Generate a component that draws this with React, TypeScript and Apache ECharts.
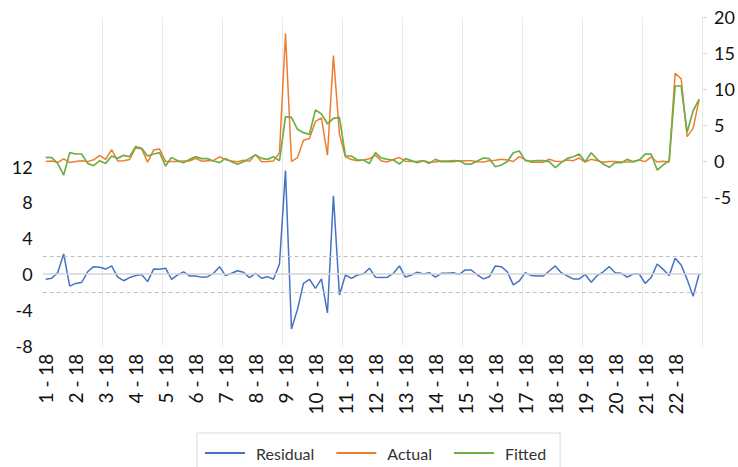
import React, { useEffect, useRef } from "react";
import * as echarts from "echarts";

const tickLabels = [
  "1 - 18", "2 - 18", "3 - 18", "4 - 18", "5 - 18", "6 - 18", "7 - 18", "8 - 18",
  "9 - 18", "10 - 18", "11 - 18", "12 - 18", "13 - 18", "14 - 18", "15 - 18",
  "16 - 18", "17 - 18", "18 - 18", "19 - 18", "20 - 18", "21 - 18", "22 - 18",
];

const residual = [
  -0.59, -0.48, 0.15, 2.25, -1.35, -1.05, -0.95, 0.25, 0.82, 0.75,
  0.55, 0.9, -0.35, -0.75, -0.4, -0.18, -0.05, -0.85, 0.55, 0.52,
  0.65, -0.59, -0.11, 0.23, -0.22, -0.22, -0.35, -0.3, 0.08, 0.82,
  -0.18, 0.08, 0.37, 0.19, -0.4, 0.08, -0.48, -0.3, -0.59, 1.12,
  11.55, -6.15, -3.95, -1.05, -0.59, -1.6, -0.55, -4.35, 8.75, -2.35,
  -0.11, -0.48, -0.11, 0.0, 0.65, -0.35, -0.4, -0.35, 0.08, 0.9,
  -0.35, -0.11, 0.19, 0.0, 0.15, -0.35, 0.08, 0.08, 0.15, -0.05,
  0.45, 0.45, -0.11, -0.55, -0.3, 0.9, 0.82, 0.25, -1.22, -0.78,
  0.15, -0.18, -0.22, -0.22, 0.34, 0.9, 0.15, -0.22, -0.55, -0.55,
  -0.05, -0.92, -0.18, 0.25, 0.82, 0.15, 0.08, -0.35, 0.0, 0.0,
  -1.05, -0.4, 1.12, 0.52, -0.18, 1.75, 1.01, -0.6, -2.5, 0.0,
];

const actual = [
  -0.08, -0.01, -0.18, 0.29, -0.19, -0.07, 0.03, -0.08, 0.17, 0.8,
  0.22, 1.6, 0.02, 0.04, 0.21, 1.82, 1.72, -0.15, 1.53, 1.68,
  -0.05, -0.08, -0.06, 0.0, 0.01, 0.39, -0.02, 0.03, 0.08, 0.59,
  0.19, -0.01, -0.09, 0.1, -0.03, 0.92, -0.11, -0.07, 0.02, 1.17,
  17.74, -0.06, 0.47, 2.9, 3.13, 5.52, 6.01, 0.81, 14.7, 3.74,
  0.59, 0.22, 0.03, 0.14, 0.32, 0.81, 0.02, -0.12, 0.22, 0.48,
  -0.02, -0.06, -0.04, 0.05, -0.18, -0.12, -0.01, -0.01, 0.06, 0.0,
  0.03, 0.03, -0.11, -0.13, 0.03, 0.11, 0.26, 0.16, -0.06, 0.61,
  0.2, -0.18, -0.17, -0.17, 0.25, -0.03, -0.08, 0.15, 0.05, 0.42,
  -0.14, 0.24, 0.05, -0.17, -0.06, -0.08, -0.15, -0.12, -0.09, 0.14,
  -0.08, 0.57, -0.13, -0.04, -0.13, 12.2, 11.46, 3.4, 4.55, 8.59,
];

const fitted = [
  0.51, 0.47, -0.33, -1.96, 1.16, 0.98, 0.98, -0.33, -0.65, 0.05,
  -0.33, 0.7, 0.37, 0.79, 0.61, 2.0, 1.77, 0.7, 0.98, 1.16,
  -0.7, 0.51, 0.05, -0.23, 0.23, 0.61, 0.33, 0.33, 0.0, -0.23,
  0.37, -0.09, -0.46, -0.09, 0.37, 0.84, 0.37, 0.23, 0.61, 0.05,
  6.19, 6.09, 4.42, 3.95, 3.72, 7.12, 6.56, 5.16, 5.95, 6.09,
  0.7, 0.7, 0.14, 0.14, -0.33, 1.16, 0.42, 0.23, 0.14, -0.42,
  0.33, 0.05, -0.23, 0.05, -0.33, 0.23, -0.09, -0.09, -0.09, 0.05,
  -0.42, -0.42, 0.0, 0.42, 0.33, -0.79, -0.56, -0.09, 1.16, 1.39,
  0.05, 0.0, 0.05, 0.05, -0.09, -0.93, -0.23, 0.37, 0.6, 0.97,
  -0.09, 1.16, 0.23, -0.42, -0.88, -0.23, -0.23, 0.23, -0.09, 0.14,
  0.97, 0.97, -1.25, -0.56, 0.05, 10.45, 10.45, 4.0, 7.0, 8.59,
];

const leftTicks = [-8, -4, 0, 4, 8, 12];
const rightTicks = [-5, 0, 5, 10, 15, 20];
const bandLevels = [-2, 2];
const zeroLevel = 0;

const categories = residual.map((_, i) => String(i + 1));

const FONT = 'Lato, "Noto Sans", sans-serif';

export default function App() {
  const ref = useRef<HTMLDivElement>(null);

  useEffect(() => {
    if (!ref.current) return;
    const chart = echarts.init(ref.current, null, { renderer: "svg" });
    const n = categories.length;
    const option: any = {
      animation: false,
      textStyle: { fontFamily: FONT },
      grid: { left: 42.7, right: 33.3, top: 17.4, bottom: 121.4, containLabel: false },
      legend: {
        left: 197,
        top: 433,
        padding: [12, 14, 12, 8],
        borderColor: "#d9d9d9",
        borderWidth: 1,
        itemGap: 22,
        itemWidth: 40,
        itemHeight: 2,
        icon: "rect",
        textStyle: { fontFamily: FONT, fontSize: 16, color: "#333", padding: [0, 0, 0, 6] },
        data: ["Residual", "Actual", "Fitted"],
      },
      xAxis: {
        type: "category",
        data: categories,
        boundaryGap: true,
        axisLine: { show: false },
        axisTick: { show: false },
        axisLabel: {
          interval: 4,
          rotate: 90,
          margin: 8,
          fontSize: 19,
          color: "#111",
          fontFamily: FONT,
          formatter: (_v: string, idx: number) => (idx % 5 === 0 ? tickLabels[idx / 5] ?? "" : ""),
        },
        splitLine: {
          show: true,
          interval: (idx: number) => idx % 10 === 0 && idx > 0 && idx < n,
          lineStyle: { color: "#e9e9e9", width: 1 },
        },
      },
      yAxis: [
        {
          type: "value",
          min: -8,
          max: 28.67,
          interval: 4,
          axisLine: { show: false },
          axisTick: { show: false },
          splitLine: { show: false },
          axisLabel: {
            customValues: leftTicks,
            fontSize: 18,
            color: "#111",
            margin: 10,
            fontFamily: FONT,
          },
        },
        {
          type: "value",
          min: -25.7,
          max: 20,
          position: "right",
          axisLine: { show: false },
          axisTick: { show: true, customValues: rightTicks, length: 5, lineStyle: { color: "#d9d9d9" } },
          splitLine: { show: false },
          axisLabel: {
            customValues: rightTicks,
            fontSize: 18,
            color: "#111",
            margin: 12,
            fontFamily: FONT,
          },
        },
      ],
      series: [
        {
          name: "Residual",
          type: "line",
          yAxisIndex: 0,
          data: residual,
          showSymbol: false,
          symbol: "none",
          lineStyle: { color: "#4472C4", width: 1.5 },
          itemStyle: { color: "#4472C4" },
          markLine: {
            silent: true,
            symbol: ["none", "none"],
            label: { show: false },
            data: [
              { yAxis: zeroLevel, lineStyle: { type: "solid", color: "#d4d4d4", width: 1.6 } },
              ...bandLevels.map((v) => ({
                yAxis: v,
                lineStyle: { type: [4, 3], color: "#bfbfbf", width: 1 },
              })),
            ],
          },
        },
        {
          name: "Actual",
          type: "line",
          yAxisIndex: 1,
          data: actual,
          showSymbol: false,
          symbol: "none",
          lineStyle: { color: "#ED7D31", width: 1.5 },
          itemStyle: { color: "#ED7D31" },
        },
        {
          name: "Fitted",
          type: "line",
          yAxisIndex: 1,
          data: fitted,
          showSymbol: false,
          symbol: "none",
          lineStyle: { color: "#70AD47", width: 1.7 },
          itemStyle: { color: "#70AD47" },
        },
      ],
    };
    chart.setOption(option);
    return () => chart.dispose();
  }, []);

  return (
    <div
      ref={ref}
      style={{ position: "fixed", left: 0, top: 0, width: 738, height: 467, background: "#fff" }}
    />
  );
}
